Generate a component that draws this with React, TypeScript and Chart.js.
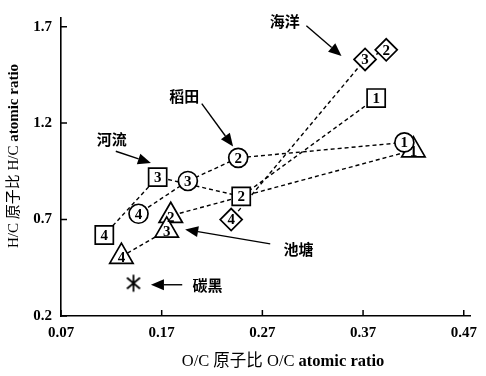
import React, { useEffect, useRef } from 'react';
import { Chart, registerables } from 'chart.js';

Chart.register(...registerables);

// Axis ranges and ticks
const xTicks = [0.07, 0.17, 0.27, 0.37, 0.47];
const yTicks = [0.2, 0.7, 1.2, 1.7];
const xMin = 0.07;
const xMax = 0.477;
const yMin = 0.2;
const yMax = 1.745;

// 河流 (squares)
const riverX = [0.383, 0.249, 0.166, 0.113];
const riverY = [1.33, 0.82, 0.92, 0.62];
const riverLabels = ['1', '2', '3', '4'];
// 稻田 (circles)
const paddyX = [0.411, 0.246, 0.196, 0.147];
const paddyY = [1.10, 1.02, 0.90, 0.73];
const paddyLabels = ['1', '2', '3', '4'];
// 池塘 (triangles)
const pondX = [0.420, 0.179, 0.175, 0.130];
const pondY = [1.06, 0.72, 0.644, 0.508];
const pondLabels = ['1', '2', '3', '4'];
// 海洋 (diamonds)
const oceanX = [0.393, 0.372, 0.239];
const oceanY = [1.58, 1.53, 0.70];
const oceanLabels = ['2', '3', '4'];
// 碳黑 (asterisk)
const carbonX = [0.142];
const carbonY = [0.37];

// Annotations
const annoText = ['海洋', '稻田', '河流', '池塘', '碳黑'];
const annoTextX = [0.2923, 0.1923, 0.1205, 0.306, 0.2156];
const annoTextY = [1.730, 1.341, 1.114, 0.548, 0.357];
const arrowFromX = [0.3137, 0.2098, 0.1244, 0.2778, 0.1904];
const arrowFromY = [1.705, 1.301, 1.054, 0.574, 0.362];
const arrowToX = [0.3486, 0.2409, 0.1593, 0.1933, 0.1593];
const arrowToY = [1.548, 1.079, 0.993, 0.649, 0.362];

const xTitleParts = [
  { t: 'O/C 原子比 O/C ', bold: false },
  { t: 'atomic ratio', bold: true },
];
const yTitleParts = [
  { t: 'H/C 原子比 H/C ', bold: false },
  { t: 'atomic ratio', bold: true },
];

const SERIF = "'Liberation Serif', 'Noto Sans CJK SC', serif";
const CJK = "'Noto Sans CJK SC', sans-serif";

const toPts = (xs: number[], ys: number[]) => xs.map((x, i) => ({ x, y: ys[i] }));

function makeAsterisk(): HTMLCanvasElement {
  const c = document.createElement('canvas');
  c.width = 20;
  c.height = 20;
  const g = c.getContext('2d')!;
  g.strokeStyle = '#000';
  g.lineWidth = 1.8;
  g.beginPath();
  const r = 8.5;
  [90, 40, 140].forEach((deg) => {
    const a = (deg * Math.PI) / 180;
    g.moveTo(10 - Math.cos(a) * r, 10 - Math.sin(a) * r);
    g.lineTo(10 + Math.cos(a) * r, 10 + Math.sin(a) * r);
  });
  g.stroke();
  return c;
}

function drawParts(ctx: CanvasRenderingContext2D, parts: { t: string; bold: boolean }[], size: number) {
  const fonts = parts.map((p) => `${p.bold ? 'bold ' : ''}${size}px ${SERIF}`);
  const widths = parts.map((p, i) => {
    ctx.font = fonts[i];
    return ctx.measureText(p.t).width;
  });
  const total = widths.reduce((a, b) => a + b, 0);
  let x = -total / 2;
  ctx.textAlign = 'left';
  ctx.textBaseline = 'middle';
  parts.forEach((p, i) => {
    ctx.font = fonts[i];
    ctx.fillText(p.t, x, 0);
    x += widths[i];
  });
}

const overlayPlugin = {
  id: 'overlay',
  afterDatasetsDraw(chart: any) {
    const ctx: CanvasRenderingContext2D = chart.ctx;
    ctx.save();
    ctx.fillStyle = '#000';
    ctx.font = `bold 15px ${SERIF}`;
    ctx.textAlign = 'center';
    ctx.textBaseline = 'middle';
    chart.data.datasets.forEach((ds: any, i: number) => {
      if (!ds.pointLabels) return;
      const meta = chart.getDatasetMeta(i);
      meta.data.forEach((el: any, j: number) => {
        ctx.fillText(ds.pointLabels[j], el.x, el.y + (ds.labelDy || 0) + 1);
      });
    });
    ctx.restore();
  },
  afterDraw(chart: any) {
    const ctx: CanvasRenderingContext2D = chart.ctx;
    const xs = chart.scales.x;
    const ys = chart.scales.y;
    const area = chart.chartArea;
    ctx.save();
    ctx.strokeStyle = '#000';
    ctx.fillStyle = '#000';
    ctx.lineWidth = 1.5;
    // inner tick marks
    ctx.beginPath();
    yTicks.forEach((v) => {
      const py = ys.getPixelForValue(v);
      ctx.moveTo(area.left, py);
      ctx.lineTo(area.left + 6, py);
    });
    xTicks.forEach((v) => {
      const px = xs.getPixelForValue(v);
      ctx.moveTo(px, area.bottom);
      ctx.lineTo(px, area.bottom - 6);
    });
    ctx.stroke();

    // arrows
    annoText.forEach((_, i) => {
      const x1 = xs.getPixelForValue(arrowFromX[i]);
      const y1 = ys.getPixelForValue(arrowFromY[i]);
      const x2 = xs.getPixelForValue(arrowToX[i]);
      const y2 = ys.getPixelForValue(arrowToY[i]);
      const ang = Math.atan2(y2 - y1, x2 - x1);
      const headLen = 13;
      const headW = 5.5;
      const bx = x2 - Math.cos(ang) * headLen;
      const by = y2 - Math.sin(ang) * headLen;
      ctx.lineWidth = 1.4;
      ctx.beginPath();
      ctx.moveTo(x1, y1);
      ctx.lineTo(bx, by);
      ctx.stroke();
      ctx.beginPath();
      ctx.moveTo(x2, y2);
      ctx.lineTo(bx - Math.sin(ang) * headW, by + Math.cos(ang) * headW);
      ctx.lineTo(bx + Math.sin(ang) * headW, by - Math.cos(ang) * headW);
      ctx.closePath();
      ctx.fill();
    });

    // annotation texts
    ctx.font = `bold 15px ${CJK}`;
    ctx.textAlign = 'center';
    ctx.textBaseline = 'middle';
    annoText.forEach((t, i) => {
      ctx.fillText(t, xs.getPixelForValue(annoTextX[i]), ys.getPixelForValue(annoTextY[i]));
    });

    // axis titles
    ctx.save();
    ctx.translate(283, 362);
    drawParts(ctx, xTitleParts, 16.5);
    ctx.restore();
    ctx.save();
    ctx.translate(14, 156);
    ctx.rotate(-Math.PI / 2);
    drawParts(ctx, yTitleParts, 15);
    ctx.restore();

    ctx.restore();
  },
};

export default function App() {
  const ref = useRef<HTMLCanvasElement>(null);

  useEffect(() => {
    document.body.style.margin = '0';
    const canvas = ref.current!;
    const asterisk = makeAsterisk();
    const lineStyle = {
      showLine: true,
      pointRadius: 0,
      borderColor: '#000',
      borderWidth: 1.4,
      borderDash: [4, 3],
      fill: false,
      order: 2,
    };
    const markerStyle = {
      showLine: false,
      pointBackgroundColor: '#fff',
      pointBorderColor: '#000',
      pointBorderWidth: 1.7,
      order: 1,
    };
    const chart = new Chart(canvas, {
      type: 'scatter',
      data: {
        datasets: [
          { ...lineStyle, label: '河流-line', data: toPts(riverX, riverY) },
          { ...lineStyle, label: '稻田-line', data: toPts(paddyX, paddyY) },
          { ...lineStyle, label: '池塘-line', data: toPts(pondX, pondY) },
          { ...lineStyle, label: '海洋-line', data: toPts(oceanX, oceanY) },
          { ...markerStyle, label: '河流', data: toPts(riverX, riverY), pointStyle: 'rect', pointRadius: 12.8, pointLabels: riverLabels },
          { ...markerStyle, label: '稻田', data: toPts(paddyX, paddyY), pointStyle: 'circle', pointRadius: 9.5, pointLabels: paddyLabels },
          { ...markerStyle, label: '池塘', data: toPts(pondX, pondY), pointStyle: 'triangle', pointRadius: 13.5, pointLabels: pondLabels, labelDy: 1 },
          { ...markerStyle, label: '海洋', data: toPts(oceanX, oceanY), pointStyle: 'rectRot', pointRadius: 11, pointLabels: oceanLabels },
          { ...markerStyle, label: '碳黑', data: toPts(carbonX, carbonY), pointStyle: asterisk, pointRadius: 10 },
        ] as any,
      },
      options: {
        animation: false,
        responsive: false,
        layout: { padding: { top: 10, right: 6, left: 0, bottom: 0 } },
        plugins: { legend: { display: false }, tooltip: { enabled: false } },
        scales: {
          x: {
            type: 'linear',
            min: xMin,
            max: xMax,
            afterBuildTicks: (s: any) => {
              s.ticks = xTicks.map((v) => ({ value: v }));
            },
            afterFit: (s: any) => {
              s.height = 60;
            },
            grid: { display: false, drawTicks: false },
            border: { display: true, color: '#000', width: 1.6 },
            ticks: {
              padding: 8,
              color: '#000',
              font: { family: 'Liberation Serif', size: 15, weight: 'bold' },
              callback: (v: any) => Number(v).toFixed(2),
            },
          },
          y: {
            type: 'linear',
            min: yMin,
            max: yMax,
            afterBuildTicks: (s: any) => {
              s.ticks = yTicks.map((v) => ({ value: v }));
            },
            afterFit: (s: any) => {
              s.width = 61;
            },
            grid: { display: false, drawTicks: false },
            border: { display: true, color: '#000', width: 1.6 },
            ticks: {
              padding: 9,
              color: '#000',
              font: { family: 'Liberation Serif', size: 15, weight: 'bold' },
              callback: (v: any) => Number(v).toFixed(1),
            },
          },
        },
      } as any,
      plugins: [overlayPlugin],
    });
    return () => chart.destroy();
  }, []);

  return (
    <div style={{ width: 486, height: 376 }}>
      <canvas ref={ref} width={486} height={376} />
    </div>
  );
}
